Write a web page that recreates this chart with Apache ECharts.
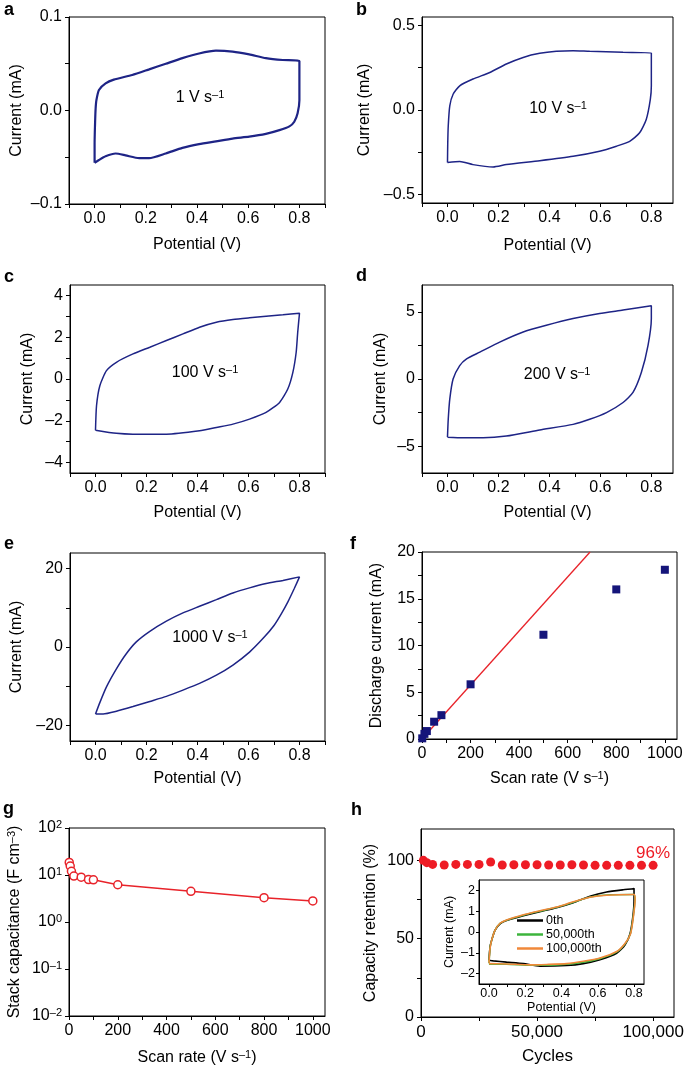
<!DOCTYPE html>
<html><head><meta charset="utf-8">
<script src="https://cdn.jsdelivr.net/npm/echarts@6/dist/echarts.min.js"></script>
<style>html,body{margin:0;padding:0;background:#fff}#c{width:685px;height:1067px}</style>
</head><body><div id="c"></div>
<script>
const FONT = '"Liberation Sans", Arial, Helvetica, sans-serif';

// ---------- data ----------
// CV loops [potential V, current mA]
const cv1 = [[0,-0.056],[0,-0.035],[0.002,-0.012],[0.004,0.002],[0.007,0.011],[0.017,0.022],[0.043,0.029],[0.075,0.033],[0.147,0.038],[0.213,0.044],[0.278,0.050],[0.343,0.056],[0.408,0.061],[0.474,0.064],[0.539,0.063],[0.604,0.060],[0.669,0.056],[0.735,0.054],[0.8,0.053],
  [0.8,0.030],[0.8,0.011],[0.793,-0.003],[0.780,-0.012],[0.761,-0.017],[0.722,-0.021],[0.669,-0.025],[0.604,-0.028],[0.539,-0.030],[0.474,-0.033],[0.408,-0.036],[0.343,-0.040],[0.278,-0.046],[0.213,-0.051],[0.174,-0.051],[0.121,-0.048],[0.082,-0.046],[0.043,-0.049],[0.017,-0.053],[0,-0.056]];
const cv10 = [[0,-0.31],[0.001,-0.2],[0.003,-0.095],[0.009,0.024],[0.022,0.093],[0.048,0.143],[0.1,0.183],[0.166,0.222],[0.231,0.272],[0.297,0.311],[0.362,0.335],[0.427,0.347],[0.493,0.351],[0.558,0.347],[0.623,0.345],[0.689,0.341],[0.8,0.337],
  [0.8,0.143],[0.796,0.063],[0.78,-0.056],[0.754,-0.135],[0.715,-0.185],[0.663,-0.214],[0.597,-0.244],[0.493,-0.274],[0.362,-0.3],[0.231,-0.323],[0.179,-0.337],[0.1,-0.323],[0.048,-0.304],[0,-0.31]];
const cv100 = [[0,-2.45],[0.004,-1.28],[0.017,-0.32],[0.043,0.4],[0.082,0.8],[0.147,1.2],[0.213,1.52],[0.278,1.84],[0.343,2.16],[0.408,2.48],[0.474,2.72],[0.539,2.85],[0.604,2.93],[0.669,3.0],[0.735,3.07],[0.8,3.15],
  [0.793,2.24],[0.787,1.28],[0.774,0.32],[0.754,-0.48],[0.722,-1.12],[0.669,-1.6],[0.604,-1.92],[0.539,-2.16],[0.474,-2.32],[0.408,-2.48],[0.278,-2.64],[0.147,-2.64],[0.082,-2.6],[0,-2.45]];
const cv200 = [[0,-4.33],[0.003,-3],[0.009,-1.5],[0.022,0],[0.048,1],[0.075,1.5],[0.127,2],[0.205,2.75],[0.297,3.5],[0.388,4],[0.493,4.5],[0.597,4.88],[0.689,5.13],[0.8,5.45],
  [0.8,4.5],[0.787,2.5],[0.761,0.5],[0.728,-1],[0.689,-1.75],[0.624,-2.5],[0.558,-3],[0.493,-3.38],[0.362,-3.8],[0.231,-4.25],[0.14,-4.38],[0.061,-4.38],[0,-4.33]];
const cv1000 = [[0,-17.1],[0.017,-14.2],[0.043,-10.2],[0.082,-5.6],[0.12,-1.8],[0.16,1.3],[0.213,4],[0.278,6.6],[0.343,8.7],[0.408,10.4],[0.474,12.1],[0.539,13.8],[0.604,15.1],[0.669,16.2],[0.735,17],[0.8,17.9],
  [0.78,15],[0.755,11.6],[0.728,8.4],[0.70,5.5],[0.66,2.4],[0.604,-1.3],[0.539,-4.6],[0.474,-7.2],[0.408,-9.3],[0.343,-11.0],[0.278,-12.6],[0.213,-13.9],[0.147,-15.2],[0.082,-16.4],[0.03,-17.1],[0,-17.1]];

// f: discharge current vs scan rate
const fRate = [1, 10, 20, 50, 80, 200, 500, 800, 1000];
const fCurrent = [0.07, 0.55, 0.85, 1.85, 2.55, 5.85, 11.15, 16.0, 18.1];
const fFit = [[0, 0], [692, 20]];

// g: stack capacitance vs scan rate
const gRate = [1, 5, 10, 20, 50, 80, 100, 200, 500, 800, 1000];
const gCap = [18.5, 15.5, 12, 9.5, 9.0, 8.0, 7.9, 6.2, 4.5, 3.3, 2.8];

// h: capacity retention vs cycles
const hCycles = [1000, 2500, 5000, 10000, 15000, 20000, 25000, 30000, 35000, 40000, 45000, 50000, 55000, 60000, 65000, 70000, 75000, 80000, 85000, 90000, 95000, 100000];
const hRetention = [100, 98.5, 97.4, 97, 97.4, 97.4, 97.4, 98.9, 97, 97.2, 97.2, 97.2, 97, 97, 97.2, 97, 96.8, 96.8, 96.8, 96.8, 96.8, 96.8];

// h inset CVs
const insetNames = ['0th', '50,000th', '100,000th'];
const cv0th = [[0,-1.36],[0.006,-0.7],[0.015,-0.39],[0.033,0.08],[0.061,0.39],[0.097,0.55],[0.19,0.78],[0.281,0.98],[0.373,1.17],[0.465,1.41],[0.557,1.72],[0.649,1.92],[0.741,2.03],[0.796,2.08],[0.8,2.1],
  [0.8,1.48],[0.793,0.7],[0.778,-0.08],[0.75,-0.63],[0.704,-1.02],[0.612,-1.33],[0.52,-1.52],[0.428,-1.61],[0.281,-1.64],[0.19,-1.52],[0.097,-1.45],[0.024,-1.39],[0,-1.36]];
const cv50k = [[0,-1.5],[0.006,-0.75],[0.015,-0.39],[0.033,0.08],[0.061,0.41],[0.097,0.57],[0.19,0.81],[0.281,1.0],[0.373,1.19],[0.465,1.43],[0.557,1.68],[0.649,1.78],[0.8,1.8],
  [0.805,1.56],[0.795,0.7],[0.78,-0.08],[0.75,-0.58],[0.704,-0.97],[0.612,-1.28],[0.52,-1.45],[0.428,-1.55],[0.318,-1.6],[0.226,-1.6],[0.097,-1.55],[0,-1.55]];
const cv100k = [[0,-1.48],[0.006,-0.78],[0.015,-0.39],[0.033,0.08],[0.061,0.42],[0.097,0.58],[0.19,0.83],[0.281,1.02],[0.373,1.2],[0.465,1.45],[0.557,1.67],[0.649,1.77],[0.8,1.8],
  [0.806,1.56],[0.796,0.7],[0.781,-0.08],[0.75,-0.55],[0.704,-0.94],[0.612,-1.25],[0.52,-1.41],[0.428,-1.52],[0.318,-1.56],[0.226,-1.58],[0.097,-1.54],[0,-1.52]];

// tick values / labels
const potLabels = [0, 0.2, 0.4, 0.6, 0.8];
const potTicks = [-0.1, 0, 0.1, 0.2, 0.3, 0.4, 0.5, 0.6, 0.7, 0.8, 0.9];
const aYLabels = [-0.1, 0, 0.1], aYTicks = [-0.1, -0.05, 0, 0.05, 0.1];
const bYLabels = [-0.5, 0, 0.5], bYTicks = [-0.5, -0.25, 0, 0.25, 0.5];
const cYLabels = [-4, -2, 0, 2, 4], cYTicks = [-4, -3, -2, -1, 0, 1, 2, 3, 4];
const dYLabels = [-5, 0, 5], dYTicks = [-5, -2.5, 0, 2.5, 5];
const eYLabels = [-20, 0, 20], eYTicks = [-20, -10, 0, 10, 20];
const rateLabels = [0, 200, 400, 600, 800, 1000];
const rateTicks = [0, 100, 200, 300, 400, 500, 600, 700, 800, 900, 1000];
const fYLabels = [0, 5, 10, 15, 20], fYTicks = [0, 2.5, 5, 7.5, 10, 12.5, 15, 17.5, 20];
const hXLabels = [0, 50000, 100000], hXTicks = [0, 25000, 50000, 75000, 100000];
const hYLabels = [0, 50, 100], hYTicks = [0, 25, 50, 75, 100];
const inXLabels = [0, 0.2, 0.4, 0.6, 0.8], inXTicks = [0, 0.1, 0.2, 0.3, 0.4, 0.5, 0.6, 0.7, 0.8];
const inYLabels = [-2, -1, 0, 1, 2], inYTicks = [-2, -1, 0, 1, 2];

// ---------- helpers ----------
const dec = n => v => (Math.abs(v) < 1e-9 ? 0 : v).toFixed(n).replace('-', '–');
const thous = v => String(Math.round(v)).replace(/\B(?=(\d{3})+(?!\d))/g, ',');
const SUP = {fontSize: 11, verticalAlign: 'top', fontFamily: FONT, color: '#000', padding: [0, 0, 6, 0]};

function axis(gi, o) {
  const a = {
    type: o.type || 'value', gridIndex: gi, min: o.min, max: o.max,
    name: o.name || '', nameLocation: 'middle', nameGap: o.gap,
    nameTextStyle: {fontFamily: FONT, fontSize: o.nfs || 16, color: '#000',
      rich: {sup: Object.assign({}, SUP, {fontSize: o.nfs ? o.nfs * 0.7 : 11})}},
    axisLine: {show: true, onZero: false, lineStyle: {color: '#000', width: 1}},
    axisTick: {show: true, inside: false, length: o.tl || 4, lineStyle: {color: '#000', width: 1}},
    axisLabel: {show: true, fontFamily: FONT, fontSize: o.fs || 16, color: '#000', margin: o.margin == null ? 7 : o.margin,
      formatter: o.fmt, hideOverlap: false,
      rich: {s: {fontSize: 11, verticalAlign: 'top', fontFamily: FONT, color: '#000', padding: [0, 0, 6, 0]}, n: {fontSize: o.fs || 16, fontFamily: FONT, color: '#000'}}},
    splitLine: {show: false}
  };
  if (o.ticks) a.axisTick.customValues = o.ticks;
  if (o.labels) a.axisLabel.customValues = o.labels;
  if (o.type === 'log') a.logBase = 10;
  return a;
}
function grid(l, t, w, h, bg) {
  return {left: l, top: t, width: w, height: h, show: true, borderColor: '#000', borderWidth: 1,
    backgroundColor: bg || 'transparent', containLabel: false, outerBoundsMode: 'none'};
}

const grids = [
  grid(69, 17, 256, 187), grid(422, 17, 251, 186),
  grid(70, 285, 255, 188), grid(422, 285, 251, 188),
  grid(70, 553, 255, 188), grid(422, 552, 255, 187),
  grid(69, 828, 256, 188), grid(421, 829, 253, 188),
  grid(479, 880, 165, 104, '#fff')
];
const POT = 'Potential (V)', CUR = 'Current (mA)';
const xAxes = [
  axis(0, {min: -0.1, max: 0.9, labels: potLabels, ticks: potTicks, fmt: dec(1), name: POT, gap: 33}),
  axis(1, {min: -0.1, max: 0.885, labels: potLabels, ticks: potTicks.filter(v => v <= 0.885), fmt: dec(1), name: POT, gap: 35}),
  axis(2, {min: -0.1, max: 0.9, labels: potLabels, ticks: potTicks, fmt: dec(1), name: POT, gap: 32}),
  axis(3, {min: -0.1, max: 0.885, labels: potLabels, ticks: potTicks.filter(v => v <= 0.885), fmt: dec(1), name: POT, gap: 32}),
  axis(4, {min: -0.1, max: 0.9, labels: potLabels, ticks: potTicks, fmt: dec(1), name: POT, gap: 30}),
  axis(5, {min: 0, max: 1050, labels: rateLabels, ticks: rateTicks, fmt: dec(0), name: 'Scan rate (V s{sup|–1})', gap: 31}),
  axis(6, {min: 0, max: 1050, labels: rateLabels, ticks: rateTicks, fmt: dec(0), name: 'Scan rate (V s{sup|–1})', gap: 33}),
  axis(7, {min: 0, max: 109000, labels: hXLabels, ticks: hXTicks, fmt: thous, name: 'Cycles', gap: 31, fs: 17, nfs: 17}),
  axis(8, {min: -0.055, max: 0.855, labels: inXLabels, ticks: inXTicks, fmt: dec(1), name: POT, gap: 17, fs: 12.5, nfs: 12.5, tl: 3, margin: 3})
];
const yAxes = [
  axis(0, {min: -0.1, max: 0.1, labels: aYLabels, ticks: aYTicks, fmt: dec(1), name: CUR, gap: 44}),
  axis(1, {min: -0.55, max: 0.55, labels: bYLabels, ticks: bYTicks, fmt: dec(1), name: CUR, gap: 49}),
  axis(2, {min: -4.5, max: 4.5, labels: cYLabels, ticks: cYTicks, fmt: dec(0), name: CUR, gap: 34}),
  axis(3, {min: -7, max: 7, labels: dYLabels, ticks: dYTicks, fmt: dec(0), name: CUR, gap: 33}),
  axis(4, {min: -24, max: 24, labels: eYLabels, ticks: eYTicks, fmt: dec(0), name: CUR, gap: 45}),
  axis(5, {min: 0, max: 20, labels: fYLabels, ticks: fYTicks, fmt: dec(0), name: 'Discharge current (mA)', gap: 37}),
  axis(6, {type: 'log', min: 0.01, max: 100, fmt: v => '{n|10}{s|' + String(Math.round(Math.log10(v))).replace('-', '–') + '}', name: 'Stack capacitance (F cm{sup|–3})', gap: 46}),
  axis(7, {min: 0, max: 120, labels: hYLabels, ticks: hYTicks, fmt: dec(0), name: 'Capacity retention (%)', gap: 42}),
  axis(8, {min: -2.5, max: 2.5, labels: inYLabels, ticks: inYTicks, fmt: dec(0), name: CUR, gap: 23, fs: 12.5, nfs: 12.5, tl: 3, margin: 4})
];

const NAVY = '#1e2486', RED = '#e8232a';
function cvSeries(i, data, color, name) {
  return {type: 'line', name: name, xAxisIndex: i, yAxisIndex: i, data: data, symbol: 'none', smooth: 0.2,
    lineStyle: {color: color || NAVY, width: i === 0 ? 2.2 : (i === 8 ? 1.6 : 1.5)}, itemStyle: {color: color || NAVY}, z: 3};
}
const series = [
  cvSeries(0, cv1), cvSeries(1, cv10), cvSeries(2, cv100), cvSeries(3, cv200), cvSeries(4, cv1000),
  {type: 'line', xAxisIndex: 5, yAxisIndex: 5, data: fFit, symbol: 'none', lineStyle: {color: RED, width: 1.3}, z: 2},
  {type: 'scatter', xAxisIndex: 5, yAxisIndex: 5, data: fRate.map((r, i) => [r, fCurrent[i]]), symbol: 'rect', symbolSize: 8, itemStyle: {color: '#15157a', opacity: 1}, z: 3},
  {type: 'line', xAxisIndex: 6, yAxisIndex: 6, data: gRate.map((r, i) => [r, gCap[i]]), symbol: 'circle', symbolSize: 8, showAllSymbol: true,
    lineStyle: {color: RED, width: 1.5}, itemStyle: {color: '#fff', borderColor: RED, borderWidth: 1.5, opacity: 1}},
  {type: 'scatter', xAxisIndex: 7, yAxisIndex: 7, data: hCycles.map((c, i) => [c, hRetention[i]]), symbol: 'circle', symbolSize: 9, itemStyle: {color: '#ee1c25', opacity: 1}},
  cvSeries(8, cv0th, '#000', insetNames[0]),
  cvSeries(8, cv50k, '#3cb43c', insetNames[1]),
  cvSeries(8, cv100k, '#f0883a', insetNames[2])
];

function letter(t, x, y) {
  return {type: 'text', left: x, top: y, z: 10, style: {text: t, font: 'bold 18px ' + FONT, fill: '#000'}};
}
function note(t, x, y, size, color) {
  return {type: 'text', x: x, y: y, z: 10, style: {text: t, fill: color || '#000', align: 'center', verticalAlign: 'middle',
    font: (size || 16) + 'px ' + FONT,
    rich: {b: {fontSize: size || 16, fontFamily: FONT, fill: color || '#000'}, sup: {fontSize: 11, fontFamily: FONT, fill: color || '#000', verticalAlign: 'top', padding: [0, 0, 6, 0]}}}};
}
const graphic = [
  letter('a', 4, 1), letter('b', 356, 1), letter('c', 4, 268), letter('d', 356, 267),
  letter('e', 4, 535), letter('f', 350, 535), letter('g', 3, 800), letter('h', 351, 801),
  note('{b|1 V s}{sup|–1}', 200, 98), note('{b|10 V s}{sup|–1}', 558, 109), note('{b|100 V s}{sup|–1}', 205, 373),
  note('{b|200 V s}{sup|–1}', 557, 375), note('{b|1000 V s}{sup|–1}', 210, 638),
  note('{b|96%}', 653, 853, 17, '#ee1c25')
];

const chart = echarts.init(document.getElementById('c'), null, {renderer: 'canvas'});
chart.setOption({
  animation: false, backgroundColor: '#fff', textStyle: {fontFamily: FONT},
  grid: grids, xAxis: xAxes, yAxis: yAxes, series: series, graphic: graphic,
  legend: {data: insetNames, orient: 'vertical', left: 517, top: 914, icon: 'rect', itemWidth: 26, itemHeight: 2.5, itemGap: 1, padding: 0,
    textStyle: {fontFamily: FONT, fontSize: 12.5, color: '#000', padding: [0, 0, 0, -2]}, itemStyle: {opacity: 1}}
});
</script></body></html>
